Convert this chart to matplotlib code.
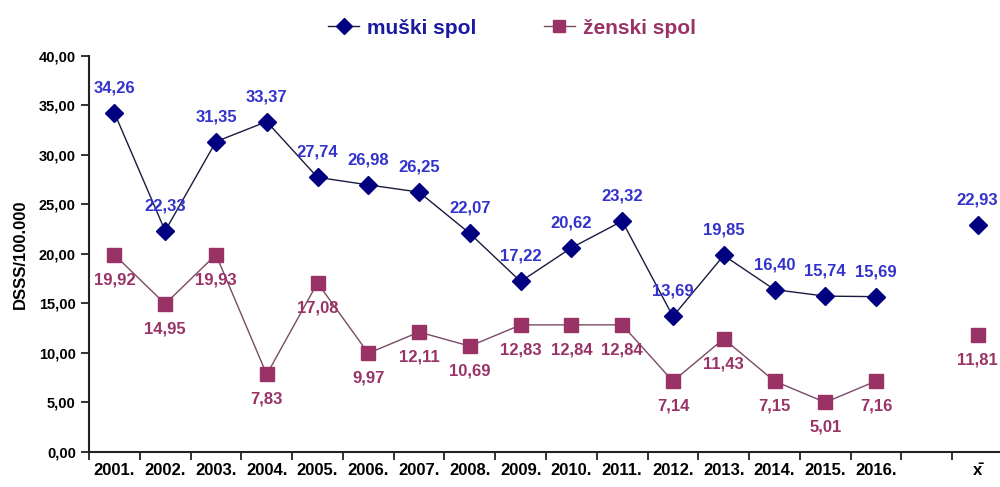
import numpy as np
import matplotlib.pyplot as plt

plt.rcParams['font.family'] = ['Liberation Sans', 'DejaVu Sans']

categories = ['2001.', '2002.', '2003.', '2004.', '2005.', '2006.', '2007.', '2008.',
              '2009.', '2010.', '2011.', '2012.', '2013.', '2014.', '2015.', '2016.',
              '', 'x\u0304']
muski = [34.26, 22.33, 31.35, 33.37, 27.74, 26.98, 26.25, 22.07,
         17.22, 20.62, 23.32, 13.69, 19.85, 16.40, 15.74, 15.69]
zenski = [19.92, 14.95, 19.93, 7.83, 17.08, 9.97, 12.11, 10.69,
          12.83, 12.84, 12.84, 7.14, 11.43, 7.15, 5.01, 7.16]
muski_mean = 22.93
zenski_mean = 11.81

m_col = '#000080'
z_col = '#993366'
m_txt = '#3333cc'

fig = plt.figure(figsize=(10, 4.87), dpi=100)
ax = fig.add_axes([0.089, 0.072, 0.914, 0.813])

x = np.arange(len(muski))
xm = len(categories) - 1

ax.plot(x, muski, color='#1a1a40', lw=1, marker='D', ms=9.5,
        mfc=m_col, mec=m_col, label='muški spol')
ax.plot(x, zenski, color='#7a4a66', lw=1, marker='s', ms=9.5,
        mfc=z_col, mec=z_col, label='ženski spol')
ax.plot([xm], [muski_mean], ls='none', marker='D', ms=9.5, mfc=m_col, mec=m_col)
ax.plot([xm], [zenski_mean], ls='none', marker='s', ms=9.5, mfc=z_col, mec=z_col)

def fmt(v):
    return f'{v:.2f}'.replace('.', ',')

for xi, v in list(zip(x, muski)) + [(xm, muski_mean)]:
    ax.annotate(fmt(v), (xi, v), xytext=(0, 18), textcoords='offset points',
                ha='center', va='center', color=m_txt, fontsize=12, fontweight='bold')
for xi, v in list(zip(x, zenski)) + [(xm, zenski_mean)]:
    ax.annotate(fmt(v), (xi, v), xytext=(0, -18), textcoords='offset points',
                ha='center', va='center', color=z_col, fontsize=12, fontweight='bold')

ax.set_xlim(-0.5, len(categories) - 0.5)
ax.set_ylim(0, 40)
ax.set_yticks(np.arange(0, 41, 5))
ax.set_yticklabels([fmt(v) for v in np.arange(0, 41, 5)], fontsize=10.5, fontweight='bold')
ax.set_xticks(x.tolist() + [16, xm])
ax.set_xticklabels(categories, fontsize=12, fontweight='bold')
ax.set_xticks(np.arange(-0.5, len(categories)), minor=True)
ax.tick_params(axis='x', which='major', length=0, pad=8)
ax.tick_params(axis='x', which='minor', length=6, width=1.3, color='#222222')
ax.tick_params(axis='y', length=6, width=1.3, color='#222222')
ax.set_ylabel('DSSS/100.000', fontsize=12, fontweight='bold', labelpad=8)

for s in ['top', 'right']:
    ax.spines[s].set_visible(False)
for s in ['left', 'bottom']:
    ax.spines[s].set_linewidth(1.5)
    ax.spines[s].set_color('#222222')

leg = fig.legend(loc='upper center', bbox_to_anchor=(0.512, 1.0), ncol=2, frameon=False,
                 prop={'weight': 'bold', 'size': 15}, handlelength=1.5,
                 handletextpad=0.4, columnspacing=3.2, markerscale=0.9)
for t, c in zip(leg.get_texts(), ['#1a1aa0', z_col]):
    t.set_color(c)

fig.savefig('out.png', dpi=100)
